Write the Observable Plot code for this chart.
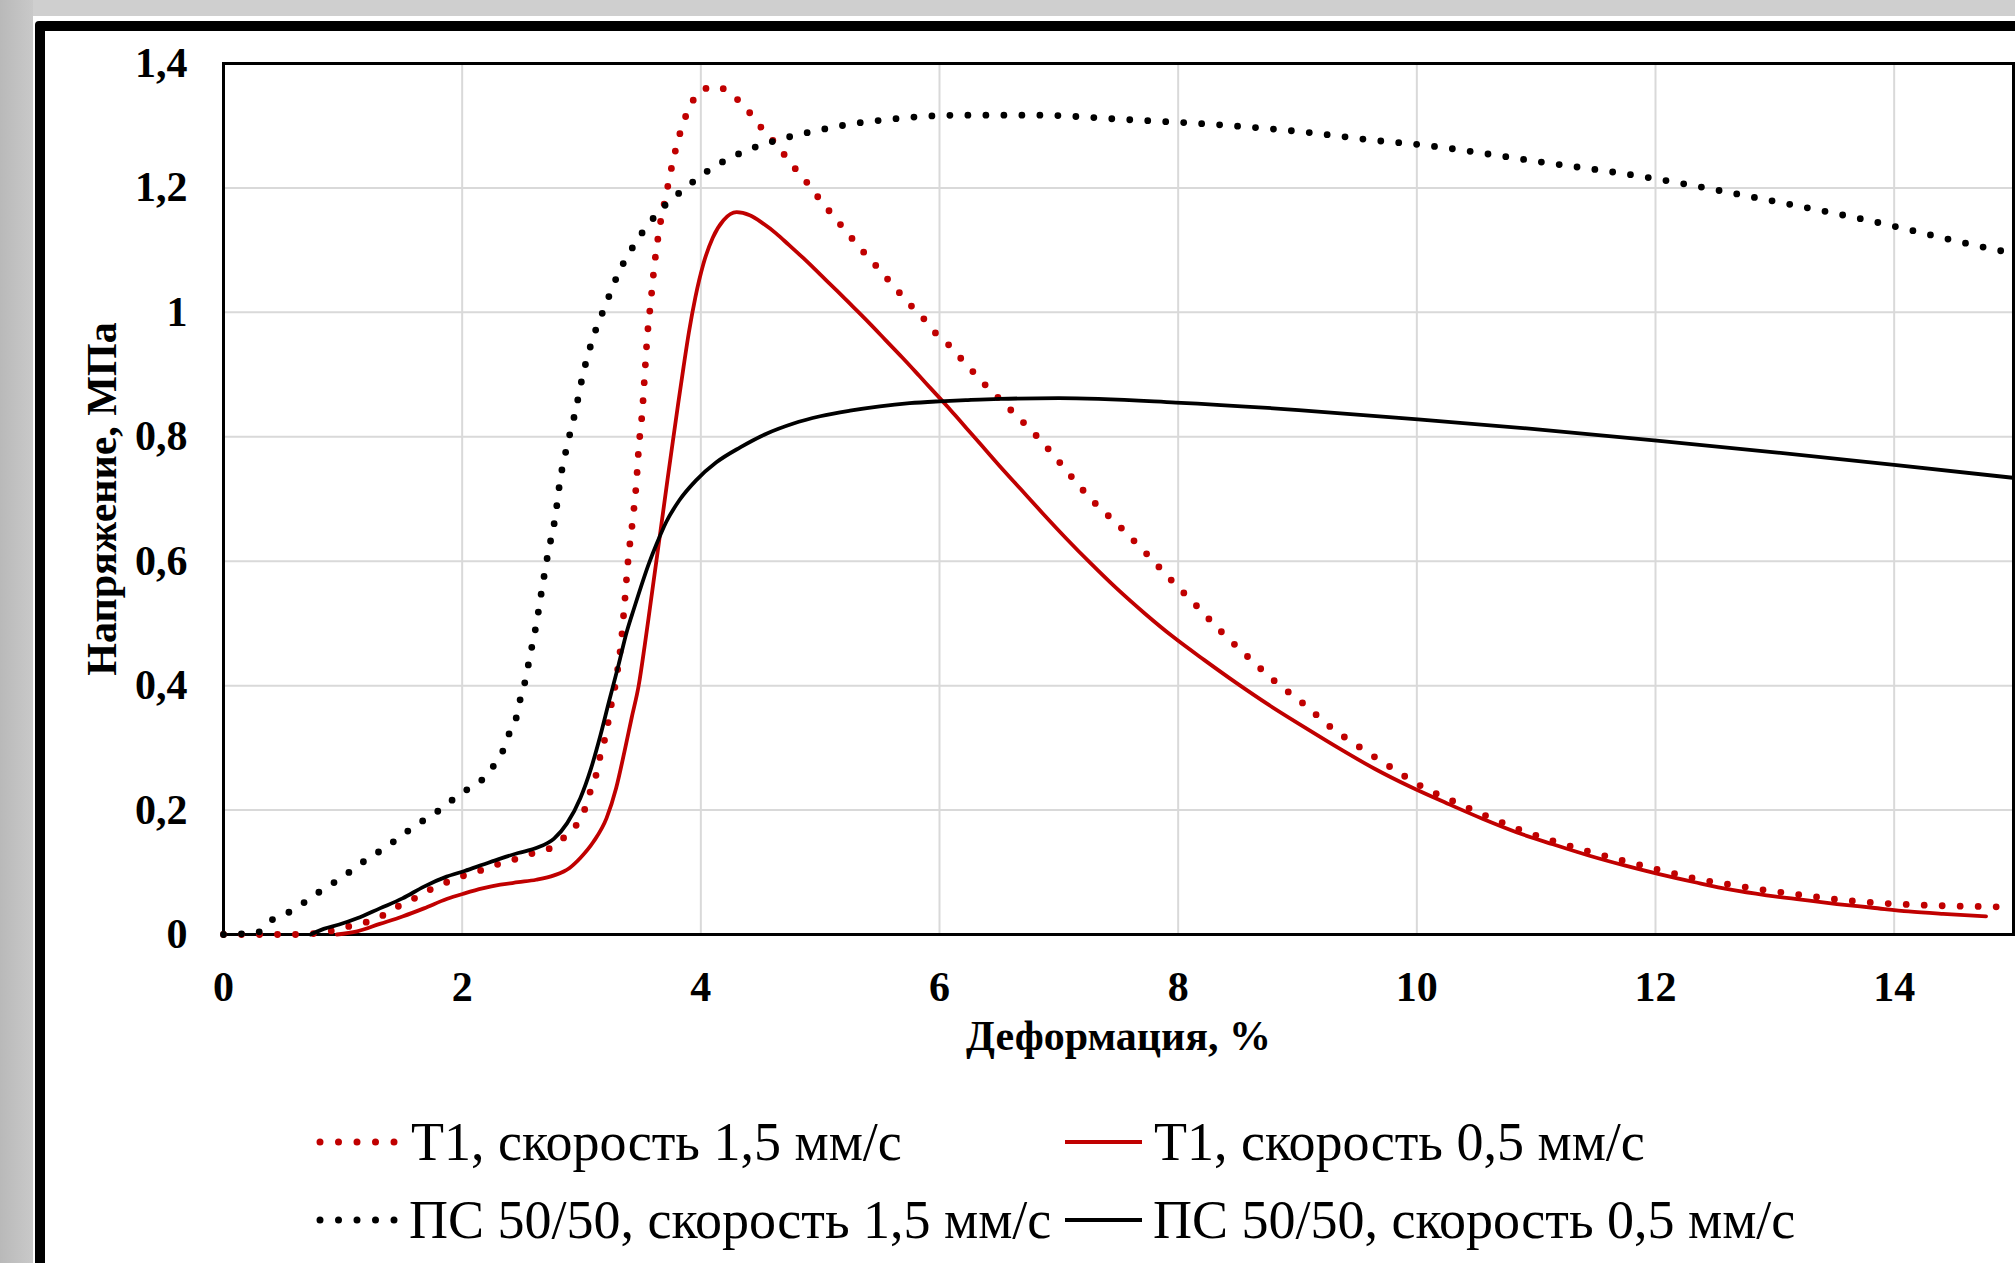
<!DOCTYPE html>
<html>
<head>
<meta charset="utf-8">
<script src="https://cdn.jsdelivr.net/npm/d3@7"></script>
<script src="https://cdn.jsdelivr.net/npm/@observablehq/plot@0.6"></script>
<style>
  html, body { margin: 0; padding: 0; }
  body { width: 2015px; height: 1263px; overflow: hidden; background: #cfcfcf; position: relative;
         font-family: "Liberation Serif", "Times New Roman", serif; }
  #leftstrip { position: absolute; left: 0; top: 0; width: 33px; height: 1263px;
               background: linear-gradient(to right, #b9b9b9, #c9c9c9); }
  #paper { position: absolute; left: 33px; top: 16px; width: 2100px; height: 1400px; background: #fff; }
  #frame { position: absolute; left: 35px; top: 21px; width: 2100px; height: 1400px;
           border: 10px solid #000; border-radius: 4px; background: #fff; box-sizing: border-box; }
  #chart { position: absolute; left: 0; top: 0; }
  .leg { position: absolute; height: 54px; line-height: 54px; font-size: 54px; color: #000;
         display: flex; align-items: center; white-space: nowrap; }
  .leg svg { display: block; flex: none; }
</style>
</head>
<body>
<div id="leftstrip"></div>
<div id="paper"></div>
<div id="frame"></div>
<div id="chart"></div>
<div id="legend"></div>
<script>
// ---------- data ----------
const xTicks = [0, 2, 4, 6, 8, 10, 12, 14];
const yTicks = [0, 0.2, 0.4, 0.6, 0.8, 1, 1.2, 1.4];
const xTitle = "Деформация, %";
const yTitle = "Напряжение, МПа";

const seriesNames = [
  "Т1, скорость 1,5 мм/с",
  "Т1, скорость 0,5 мм/с",
  "ПС 50/50, скорость 1,5 мм/с",
  "ПС 50/50, скорость 0,5 мм/с"
];

// Т1, 1,5 мм/с
const t1FastX = [0, 0.6, 0.91, 1.03, 1.2, 1.35, 1.48, 1.61, 1.74, 1.87, 2.02, 2.17, 2.3, 2.46, 2.6, 2.75, 2.86, 2.97, 3.04, 3.08, 3.13, 3.16, 3.2, 3.23, 3.26, 3.29, 3.31, 3.33, 3.36, 3.39, 3.43, 3.46, 3.48, 3.51, 3.53, 3.55, 3.58, 3.61, 3.65, 3.71, 3.77, 3.85, 3.91, 3.99, 4.13, 4.27, 4.38, 4.47, 4.57, 4.67, 4.76, 4.86, 4.95, 5.05, 5.14, 5.24, 5.34, 5.44, 5.54, 5.64, 5.74, 5.85, 5.94, 6.06, 6.16, 6.26, 6.36, 6.47, 6.82, 7.3, 7.52, 7.73, 7.94, 8.15, 8.36, 8.58, 8.81, 9.05, 9.28, 9.53, 9.78, 10.04, 10.32, 10.59, 10.87, 11.15, 11.45, 11.74, 12.03, 12.33, 12.63, 12.93, 13.24, 13.54, 13.84, 14.15, 14.44, 14.74, 14.95];
const t1FastY = [0, 0, 0.006, 0.012, 0.02, 0.032, 0.047, 0.059, 0.073, 0.084, 0.095, 0.104, 0.113, 0.122, 0.131, 0.14, 0.157, 0.18, 0.208, 0.234, 0.262, 0.29, 0.318, 0.348, 0.38, 0.408, 0.436, 0.465, 0.53, 0.6, 0.668, 0.726, 0.783, 0.842, 0.9, 0.958, 1.016, 1.074, 1.131, 1.19, 1.246, 1.303, 1.331, 1.355, 1.363, 1.348, 1.328, 1.305, 1.284, 1.261, 1.238, 1.216, 1.193, 1.169, 1.148, 1.125, 1.102, 1.081, 1.059, 1.037, 1.015, 0.994, 0.972, 0.951, 0.93, 0.909, 0.888, 0.867, 0.8, 0.694, 0.654, 0.613, 0.57, 0.529, 0.487, 0.447, 0.407, 0.371, 0.333, 0.3, 0.269, 0.238, 0.213, 0.19, 0.168, 0.15, 0.133, 0.118, 0.104, 0.09, 0.08, 0.071, 0.063, 0.056, 0.051, 0.048, 0.046, 0.045, 0.044];

// Т1, 0,5 мм/с
const t1SlowX = [0.95, 1.12, 1.31, 1.5, 1.68, 1.87, 2.02, 2.17, 2.32, 2.47, 2.62, 2.77, 2.9, 2.99, 3.1, 3.21, 3.29, 3.36, 3.42, 3.48, 3.53, 3.57, 3.62, 3.67, 3.72, 3.765, 3.81, 3.855, 3.9, 3.955, 4.02, 4.1, 4.19, 4.3, 4.41, 4.52, 4.63, 4.74, 4.86, 5.0, 5.14, 5.27, 5.41, 5.55, 5.69, 5.83, 5.94, 6.06, 6.17, 6.28, 6.39, 6.5, 6.68, 6.86, 7.06, 7.27, 7.48, 7.72, 7.96, 8.22, 8.49, 8.76, 9.06, 9.36, 9.65, 9.95, 10.25, 10.55, 10.84, 11.14, 11.44, 11.74, 12.03, 12.33, 12.63, 12.93, 13.22, 13.52, 13.82, 14.12, 14.41, 14.77];
const t1SlowY = [0, 0.005, 0.017, 0.029, 0.042, 0.057, 0.066, 0.074, 0.08, 0.084, 0.088, 0.095, 0.107, 0.123, 0.149, 0.187, 0.235, 0.294, 0.348, 0.401, 0.465, 0.52, 0.59, 0.66, 0.73, 0.792, 0.853, 0.912, 0.968, 1.025, 1.077, 1.12, 1.148, 1.161, 1.156, 1.143, 1.127, 1.108, 1.087, 1.061, 1.035, 1.01, 0.983, 0.955, 0.927, 0.898, 0.875, 0.85, 0.826, 0.802, 0.778, 0.754, 0.716, 0.678, 0.637, 0.596, 0.557, 0.516, 0.478, 0.441, 0.404, 0.369, 0.333, 0.298, 0.266, 0.237, 0.211, 0.186, 0.164, 0.145, 0.127, 0.111, 0.097, 0.084, 0.072, 0.063, 0.056, 0.049, 0.043, 0.037, 0.033, 0.029];

// ПС 50/50, 1,5 мм/с
const psFastX = [0, 0.28, 0.41, 0.55, 0.68, 0.8, 0.93, 1.06, 1.18, 1.31, 1.43, 1.55, 1.68, 1.81, 1.93, 2.05, 2.18, 2.27, 2.35, 2.4, 2.46, 2.49, 2.53, 2.56, 2.59, 2.62, 2.66, 2.72, 2.78, 2.82, 2.88, 2.95, 3.01, 3.09, 3.2, 3.31, 3.46, 3.65, 3.87, 4.12, 4.38, 4.68, 4.97, 5.27, 5.57, 5.87, 6.2, 6.8, 7.55, 8.45, 9.05, 9.67, 10.0, 11.03, 11.93, 12.85, 13.73, 14.92, 15];
const psFastY = [0, 0.003, 0.024, 0.036, 0.052, 0.068, 0.084, 0.101, 0.118, 0.134, 0.15, 0.167, 0.184, 0.2, 0.218, 0.234, 0.251, 0.273, 0.299, 0.326, 0.353, 0.381, 0.409, 0.439, 0.468, 0.497, 0.545, 0.613, 0.671, 0.729, 0.786, 0.842, 0.898, 0.955, 1.011, 1.063, 1.114, 1.162, 1.2, 1.235, 1.26, 1.279, 1.292, 1.303, 1.31, 1.315, 1.317, 1.317, 1.31, 1.3, 1.29, 1.276, 1.27, 1.242, 1.217, 1.184, 1.15, 1.098, 1.095];

// ПС 50/50, 0,5 мм/с
const psSlowX = [0.73, 0.84, 0.97, 1.12, 1.31, 1.5, 1.68, 1.87, 2.02, 2.17, 2.32, 2.47, 2.62, 2.77, 2.88, 2.99, 3.08, 3.16, 3.23, 3.31, 3.38, 3.44, 3.57, 3.63, 3.71, 3.82, 3.96, 4.13, 4.33, 4.55, 4.77, 5.0, 5.25, 5.5, 5.75, 6.0, 6.22, 6.5, 7.0, 7.98, 9.01, 10.01, 11.01, 12.01, 13.0, 14.0, 15.0];
const psSlowY = [0, 0.009, 0.016, 0.026, 0.042, 0.058, 0.077, 0.093, 0.102, 0.112, 0.122, 0.131, 0.139, 0.154, 0.179, 0.219, 0.267, 0.321, 0.374, 0.433, 0.487, 0.524, 0.599, 0.628, 0.663, 0.698, 0.73, 0.759, 0.783, 0.805, 0.821, 0.833, 0.842, 0.849, 0.854, 0.857, 0.859, 0.861, 0.862, 0.855, 0.843, 0.828, 0.812, 0.794, 0.775, 0.755, 0.734];

// ---------- build ----------
const RED = "#c00000";
const toRows = (xs, ys) => xs.map((x, i) => ({x, y: ys[i]}));
const series = [
  {name: seriesNames[0], rows: toRows(t1FastX, t1FastY), color: RED, dotted: true},
  {name: seriesNames[1], rows: toRows(t1SlowX, t1SlowY), color: RED, dotted: false},
  {name: seriesNames[2], rows: toRows(psFastX, psFastY), color: "#000", dotted: true},
  {name: seriesNames[3], rows: toRows(psSlowX, psSlowY), color: "#000", dotted: false}
];
const fmt = d => String(d).replace(".", ",");

const lineMarks = series.map(s => Plot.line(s.rows, s.dotted
  ? {x: "x", y: "y", stroke: s.color, strokeWidth: 6.8, strokeDasharray: "0 18", strokeLinecap: "round", curve: "monotone-x"}
  : {x: "x", y: "y", stroke: s.color, strokeWidth: 3.8, strokeLinejoin: "round", curve: "monotone-x"}));

const chart = Plot.plot({
  width: 2015,
  height: 1080,
  marginLeft: 223,
  marginRight: 2,
  marginTop: 63,
  marginBottom: 146,
  style: {
    fontFamily: "'Liberation Serif', 'Times New Roman', serif",
    fontSize: "42px",
    fontWeight: "bold",
    background: "transparent",
    color: "#000",
    overflow: "visible"
  },
  x: {domain: [0, 15], ticks: xTicks, tickSize: 0, tickPadding: 37, tickFormat: fmt, label: null},
  y: {domain: [0, 1.4], ticks: yTicks, tickSize: 0, tickPadding: 36, tickFormat: fmt, label: null},
  marks: [
    Plot.ruleX(xTicks.filter(d => d > 0), {stroke: "#d9d9d9", strokeWidth: 2}),
    Plot.ruleY(yTicks.filter(d => d > 0), {stroke: "#d9d9d9", strokeWidth: 2}),
    Plot.frame({stroke: "#000", strokeWidth: 3}),
    ...lineMarks,
    Plot.text([xTitle], {text: d => d, frameAnchor: "bottom", textAnchor: "middle", dy: 115, fontSize: 42, fontWeight: "bold", fill: "#000"}),
    Plot.text([yTitle], {text: d => d, frameAnchor: "left", textAnchor: "middle", dx: -121, rotate: -90, fontSize: 42, fontWeight: "bold", fill: "#000"})
  ]
});
document.getElementById("chart").appendChild(chart);

// ---------- legend ----------
const legendPos = [
  {left: 316, top: 1115, gap: 12},
  {left: 1063, top: 1115, gap: 8},
  {left: 316, top: 1193, gap: 10},
  {left: 1063, top: 1193, gap: 7}
];
const legend = document.getElementById("legend");
series.forEach((s, i) => {
  const p = legendPos[i];
  const div = document.createElement("div");
  div.className = "leg";
  div.style.left = p.left + "px";
  div.style.top = p.top + "px";
  const dash = s.dotted
    ? `stroke-width="7" stroke-dasharray="0 18.5" stroke-linecap="round"`
    : `stroke-width="4"`;
  const x1 = s.dotted ? 4 : 2, x2 = s.dotted ? 80 : 79;
  div.innerHTML = `<svg width="83" height="20"><line x1="${x1}" x2="${x2}" y1="10" y2="10" stroke="${s.color}" ${dash}/></svg>` +
    `<span style="margin-left:${p.gap}px">${s.name}</span>`;
  legend.appendChild(div);
});
</script>
</body>
</html>
